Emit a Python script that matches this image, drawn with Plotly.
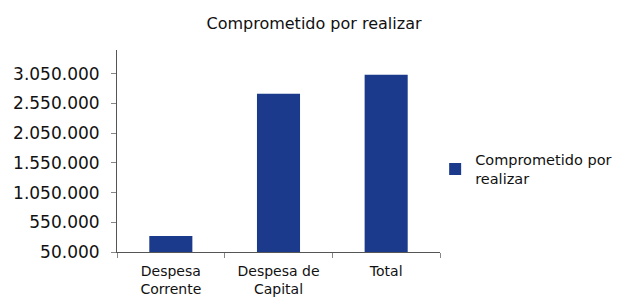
import plotly.graph_objects as go

categories = ["Despesa<br>Corrente", "Despesa de<br>Capital", "Total"]
values = [320000, 2715000, 3035000]
series_name = "Comprometido por<br>realizar"
y_ticks = [50000, 550000, 1050000, 1550000, 2050000, 2550000, 3050000]
y_ticktext = ["50.000", "550.000", "1.050.000", "1.550.000", "2.050.000", "2.550.000", "3.050.000"]

font_family = "DejaVu Sans"
bar_color = "#1B3A8C"

# page body has an 8px margin, so the figure is sized to fill the rest of the 620x300 window
W, H = 612, 292

fig = go.Figure()
fig.add_trace(go.Bar(
    x=categories, y=values, name=series_name,
    marker=dict(color=bar_color, line=dict(width=0)),
    width=0.4, showlegend=True,
))

fig.update_layout(
    width=W, height=H,
    margin=dict(l=109, r=180, t=42, b=48, autoexpand=False),
    paper_bgcolor="white", plot_bgcolor="white",
    font=dict(family=font_family, color="#111111"),
    title=dict(text="Comprometido por realizar", x=0.5, xanchor="center",
               y=1 - 15/H, yanchor="middle", font=dict(size=16, family=font_family, color="#111111")),
    showlegend=True,
    legend=dict(x=0.985, xanchor="left", y=0.41, yanchor="middle",
                font=dict(size=14.5, family=font_family, color="#111111"),
                bgcolor="rgba(0,0,0,0)", itemwidth=30),
    bargap=0.6,
)
fig.update_xaxes(
    automargin=False,
    showline=True, linecolor="#555555", linewidth=1,
    ticks="outside", tickson="boundaries", ticklen=5, tickcolor="#888888",
    ticklabelstandoff=6,
    tickfont=dict(size=14, family=font_family, color="#111111"),
    showgrid=False, zeroline=False,
)
fig.update_yaxes(
    automargin=False,
    range=[50000, 3450000],
    tickvals=y_ticks, ticktext=y_ticktext,
    showline=True, linecolor="#555555", linewidth=1,
    ticks="outside", ticklen=5, tickcolor="#888888", ticklabelstandoff=8,
    tickfont=dict(size=17, family=font_family, color="#111111"),
    showgrid=False, zeroline=False,
)

fig.write_html("out.html")
